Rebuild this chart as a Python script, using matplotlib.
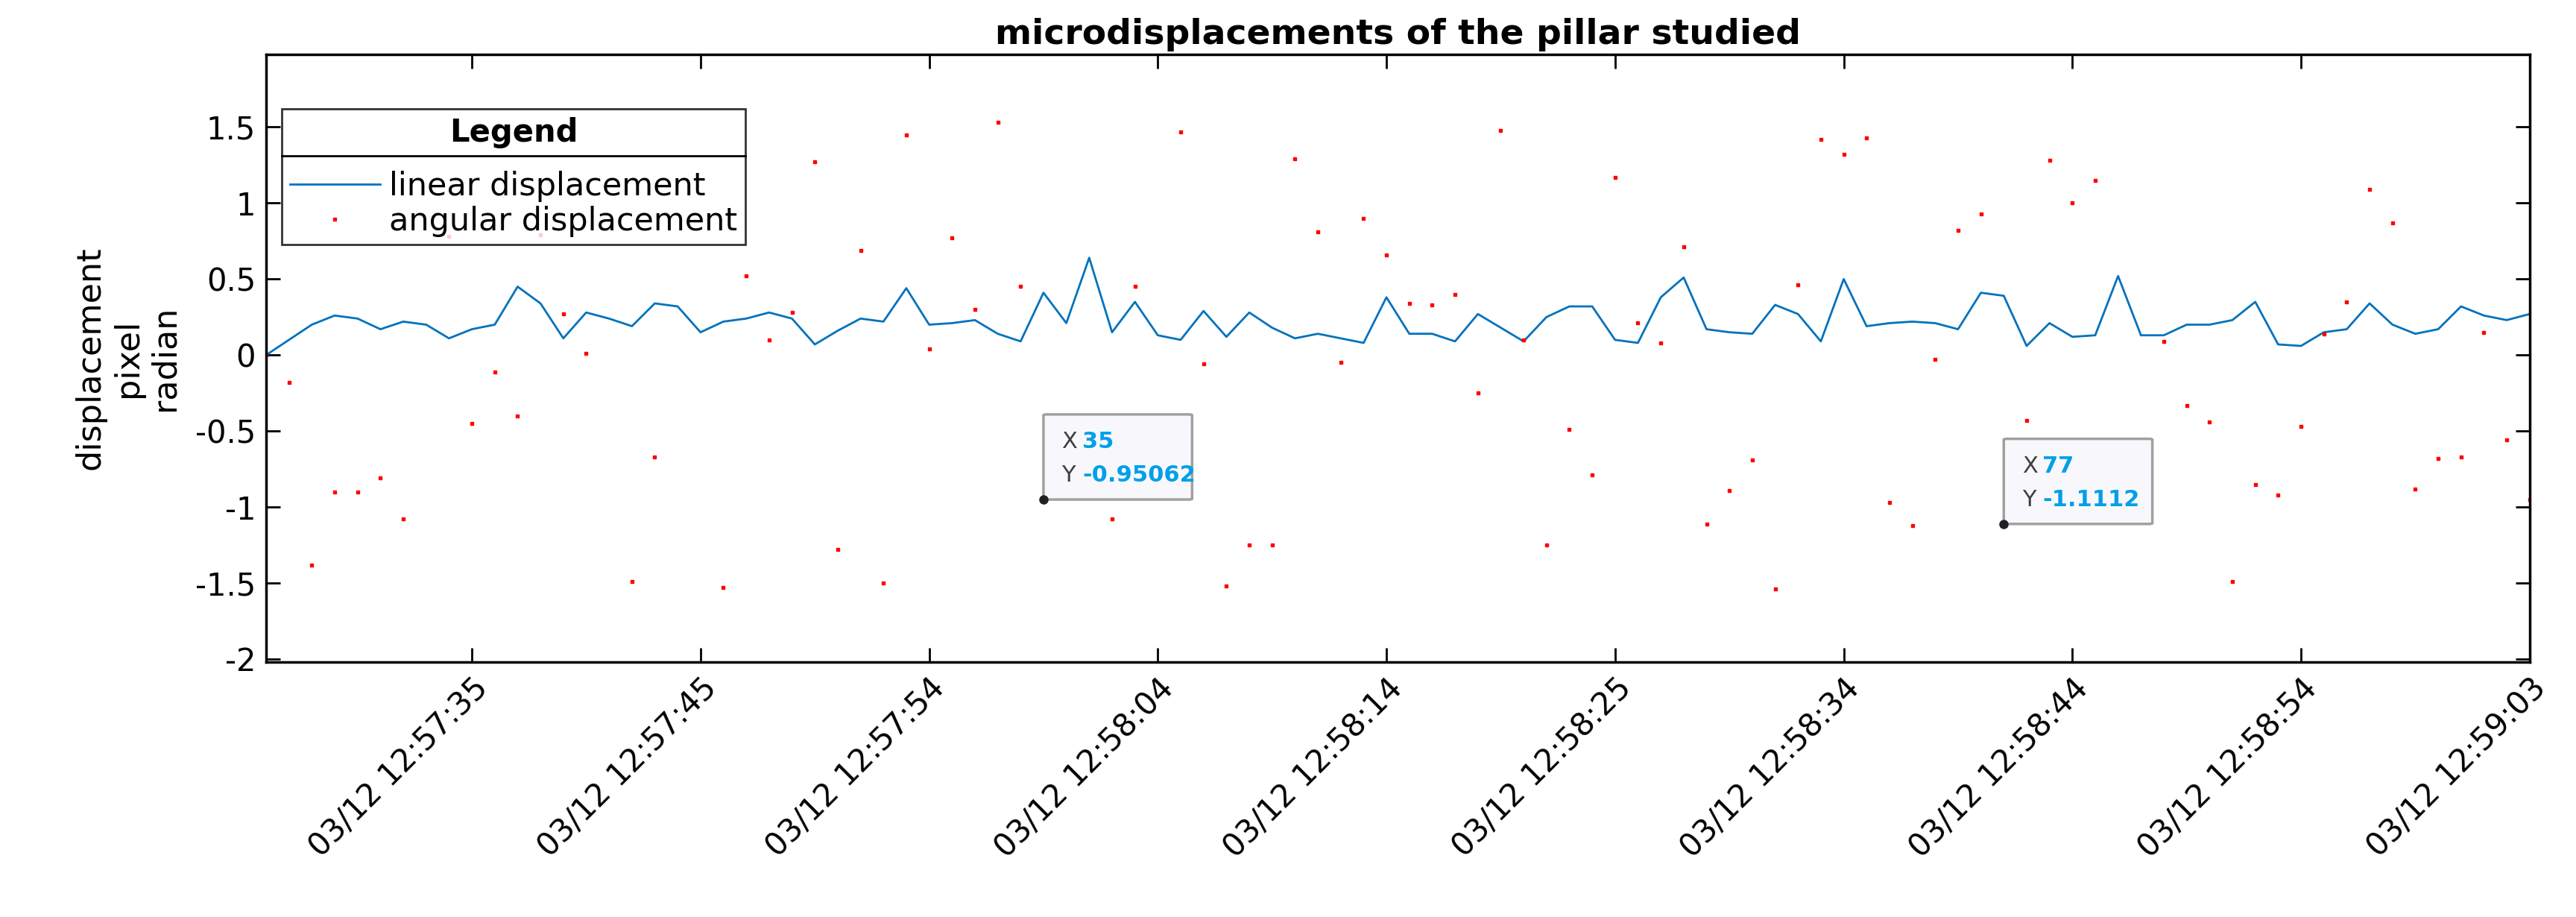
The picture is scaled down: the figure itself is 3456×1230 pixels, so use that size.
import numpy as np
import matplotlib
matplotlib.use("Agg")
import matplotlib.pyplot as plt
from matplotlib.patches import FancyBboxPatch
from matplotlib.lines import Line2D

nan = np.nan
index = np.arange(1, 101)
linear = [0.00, 0.10, 0.20, 0.26, 0.24, 0.17, 0.22, 0.20, 0.11, 0.17,
          0.20, 0.45, 0.34, 0.11, 0.28, 0.24, 0.19, 0.34, 0.32, 0.15,
          0.22, 0.24, 0.28, 0.24, 0.07, 0.16, 0.24, 0.22, 0.44, 0.20,
          0.21, 0.23, 0.14, 0.09, 0.41, 0.21, 0.64, 0.15, 0.35, 0.13,
          0.10, 0.29, 0.12, 0.28, 0.18, 0.11, 0.14, 0.11, 0.08, 0.38,
          0.14, 0.14, 0.09, 0.27, 0.18, 0.09, 0.25, 0.32, 0.32, 0.10,
          0.08, 0.38, 0.51, 0.17, 0.15, 0.14, 0.33, 0.27, 0.09, 0.50,
          0.19, 0.21, 0.22, 0.21, 0.17, 0.41, 0.39, 0.06, 0.21, 0.12,
          0.13, 0.52, 0.13, 0.13, 0.20, 0.20, 0.23, 0.35, 0.07, 0.06,
          0.15, 0.17, 0.34, 0.20, 0.14, 0.17, 0.32, 0.26, 0.23, 0.27]
angular = [0.00, -0.18, -1.38, -0.90, -0.90, -0.81, -1.08, nan, 0.78, -0.45,
           -0.11, -0.40, 0.79, 0.27, 0.01, nan, -1.49, -0.67, nan, nan,
           -1.53, 0.52, 0.10, 0.28, 1.27, -1.28, 0.69, -1.50, 1.45, 0.04,
           0.77, 0.30, 1.53, 0.45, -0.95062, nan, nan, -1.08, 0.45, nan,
           1.47, -0.06, -1.52, -1.25, -1.25, 1.29, 0.81, -0.05, 0.90, 0.66,
           0.34, 0.33, 0.40, -0.25, 1.48, 0.10, -1.25, -0.49, -0.79, 1.17,
           0.21, 0.08, 0.71, -1.11, -0.89, -0.69, -1.54, 0.46, 1.42, 1.32,
           1.43, -0.97, -1.12, -0.03, 0.82, 0.93, -1.1112, -0.43, 1.28, 1.00,
           1.15, nan, nan, 0.09, -0.33, -0.44, -1.49, -0.85, -0.92, -0.47,
           0.14, 0.35, 1.09, 0.87, -0.88, -0.68, -0.67, 0.15, -0.56, -0.95]
tick_pos = [10, 20, 30, 40, 50, 60, 70, 80, 90, 100]
tick_labels = ["03/12 12:57:35", "03/12 12:57:45", "03/12 12:57:54", "03/12 12:58:04",
               "03/12 12:58:14", "03/12 12:58:25", "03/12 12:58:34", "03/12 12:58:44",
               "03/12 12:58:54", "03/12 12:59:03"]
y_ticks = [-2, -1.5, -1, -0.5, 0, 0.5, 1, 1.5]
tips = [(35, -0.95062, "35", "-0.95062"), (77, -1.1112, "77", "-1.1112")]

plt.rcParams['font.family'] = ['DejaVu Sans']
fig = plt.figure(figsize=(34.56, 12.30), dpi=100)
ax = fig.add_axes([0.1033, 0.278, 0.8787, 0.663])

ax.plot(index, linear, color='#0072BD', lw=2.0, label='linear displacement')
ax.plot(index, angular, ls='none', marker='s', ms=3.5, color='#FF0000', label='angular displacement')

ax.set_xlim(1, 100)
ax.set_ylim(-2.02, 1.98)
ax.set_yticks(y_ticks)
ax.set_yticklabels(["-2", "-1.5", "-1", "-0.5", "0", "0.5", "1", "1.5"])
ax.set_xticks(tick_pos)
ax.set_xticklabels(tick_labels, rotation=45, ha='right', rotation_mode='anchor')
ax.tick_params(direction='in', length=14, width=2, labelsize=30, top=True, right=True, pad=10)
for s in ax.spines.values():
    s.set_linewidth(2.5)
ax.set_ylabel("displacement\npixel\nradian", fontsize=32, labelpad=14)
ax.set_title("microdisplacements of the pillar studied", fontsize=34, fontweight='bold', pad=10)

leg = ax.legend(loc='upper left', bbox_to_anchor=(0.007, 0.91), borderaxespad=0, title='Legend', fontsize=31,
                title_fontproperties={'weight': 'bold', 'size': 30}, frameon=True, fancybox=False,
                edgecolor='black', borderpad=0.25, handlelength=2.8, handletextpad=0.3,
                labelspacing=0.1, markerscale=1.0)
leg._legend_box.sep = 22
leg.get_frame().set_linewidth(2)
leg.set_zorder(10)

fig.canvas.draw()
fb = leg.get_frame().get_window_extent()
tb = leg.get_title().get_window_extent()
ysep = tb.y0 - 10
inv = fig.transFigure.inverted()
p0 = inv.transform((fb.x0, ysep)); p1 = inv.transform((fb.x1, ysep))
fig.add_artist(Line2D([p0[0], p1[0]], [p0[1], p1[1]], color='black', lw=2, zorder=20))

for (xi, yi, xs, ys) in tips:
    w = 6.5; h = 0.56
    box = FancyBboxPatch((xi, yi), w, h, boxstyle='round,pad=0,rounding_size=0.15',
                         facecolor='#F8F8FC', edgecolor='#A0A0A0', lw=2.5, zorder=5,
                         mutation_aspect=0.04)
    ax.add_patch(box)
    ax.plot([xi], [yi], 'o', color='#202020', ms=8, zorder=6)
    ax.text(xi + 0.8, yi + 0.38, "X", fontsize=22, color='#404040', va='center', zorder=7)
    ax.text(xi + 1.7, yi + 0.38, xs, fontsize=22, color='#00A0E8', fontweight='bold', va='center', zorder=7)
    ax.text(xi + 0.8, yi + 0.16, "Y", fontsize=22, color='#404040', va='center', zorder=7)
    ax.text(xi + 1.7, yi + 0.16, ys, fontsize=22, color='#00A0E8', fontweight='bold', va='center', zorder=7)

fig.savefig("out.png", dpi=100)
